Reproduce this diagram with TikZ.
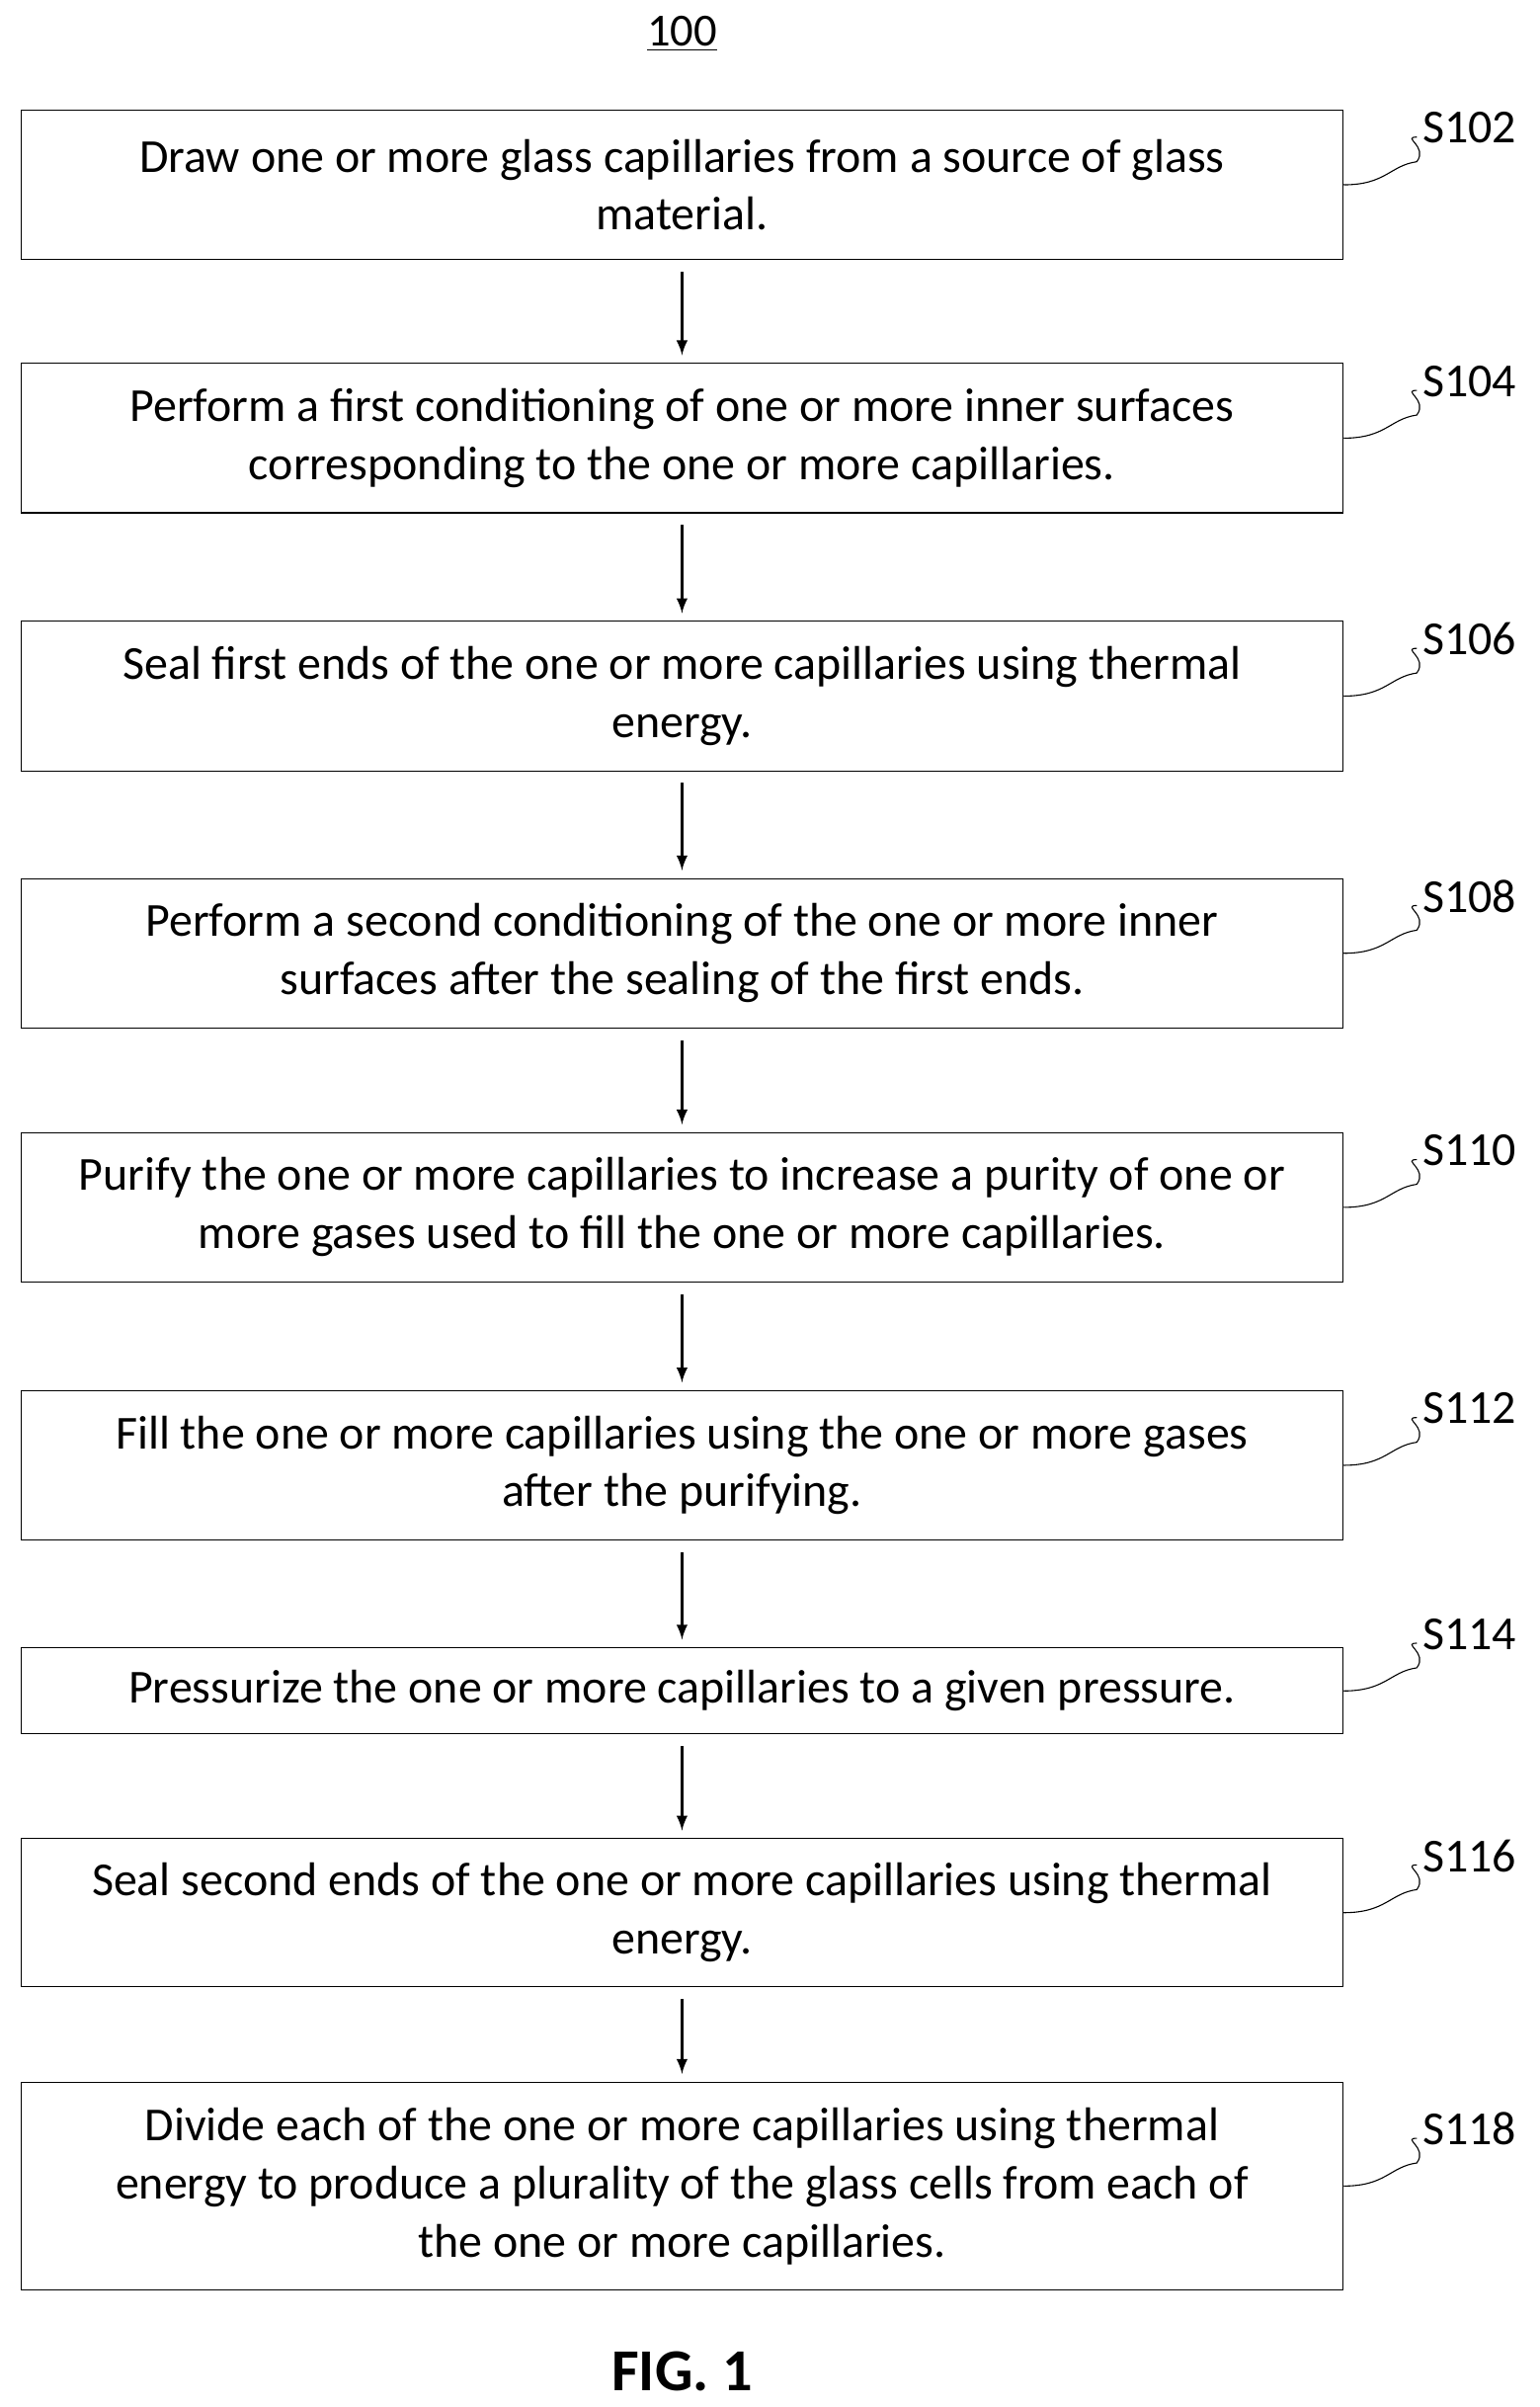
\documentclass[tikz,border=0pt]{standalone}
\usepackage{fontspec}
\setmainfont{Carlito}
\usetikzlibrary{positioning}
\begin{document}
\begin{tikzpicture}[x=0.02cm,y=-0.02cm,
    stepbox/.style={%
      draw,
      rectangle,
      minimum width=17.18cm,
      align=center,
      font=\fontsize{17.5}{21.5}\selectfont,
    },
    lbl/.style={font=\fontsize{17.5}{21}\selectfont, anchor=west},
  ]
    \useasboundingbox (0,0) rectangle (1000,1563);

    \node at (443,22) {\fontsize{17}{20}\selectfont\underline{100}};

    \node [stepbox, minimum height=1.94cm] (A) at (443,120) {Draw one or more glass capillaries from a source of glass\\ material.};
    \node [stepbox, minimum height=1.94cm] (B) at (443,284.5) {Perform a first conditioning of one or more inner surfaces\\ corresponding to the one or more capillaries.};
    \node [stepbox, minimum height=1.94cm] (C) at (443,452) {Seal first ends of the one or more capillaries using thermal\\ energy.};
    \node [stepbox, minimum height=1.94cm] (D) at (443,619) {Perform a second conditioning of the one or more inner\\ surfaces after the sealing of the first ends.};
    \node [stepbox, minimum height=1.94cm] (E) at (443,784) {Purify the one or more capillaries to increase a purity of one or\\ more gases used to fill the one or more capillaries.};
    \node [stepbox, minimum height=1.94cm] (F) at (443,951.5) {Fill the one or more capillaries using the one or more gases\\ after the purifying.};
    \node [stepbox, minimum height=1.12cm] (G) at (443,1098) {Pressurize the one or more capillaries to a given pressure.};
    \node [stepbox, minimum height=1.92cm] (H) at (443,1242) {Seal second ends of the one or more capillaries using thermal\\ energy.};
    \node [stepbox, minimum height=2.7cm] (I) at (443,1419.5) {Divide each of the one or more capillaries using thermal\\ energy to produce a plurality of the glass cells from each of\\ the one or more capillaries.};

    \foreach \a/\b in {A/B,B/C,C/D,D/E,E/F,F/G,G/H,H/I}
      \draw [-latex, line width=0.9pt] ([yshift=-0.15cm]\a.south) -- ([yshift=0.1cm]\b.north);

    % step labels
    \foreach \n/\s in {A/S102,B/S104,C/S106,D/S108,E/S110,F/S112,G/S114,H/S116,I/S118} {
      \coordinate (\n-l) at ([xshift=0.95cm,yshift=0.62cm]\n.east);
      \draw (\n.east) .. controls +(0.55cm,0) and +(-0.35cm,-0.05cm) .. ([yshift=0.3cm]\n.east -| \n-l) .. controls +(0.15cm,0.2cm) and +(-0.2cm,0) .. (\n-l);
      \node [lbl] at ([xshift=-0.05cm,yshift=0.12cm]\n-l) {\s};
    }

    \node [font=\fontsize{22}{26}\selectfont\bfseries] at (443,1540) {FIG. 1};
\end{tikzpicture}
\end{document}
